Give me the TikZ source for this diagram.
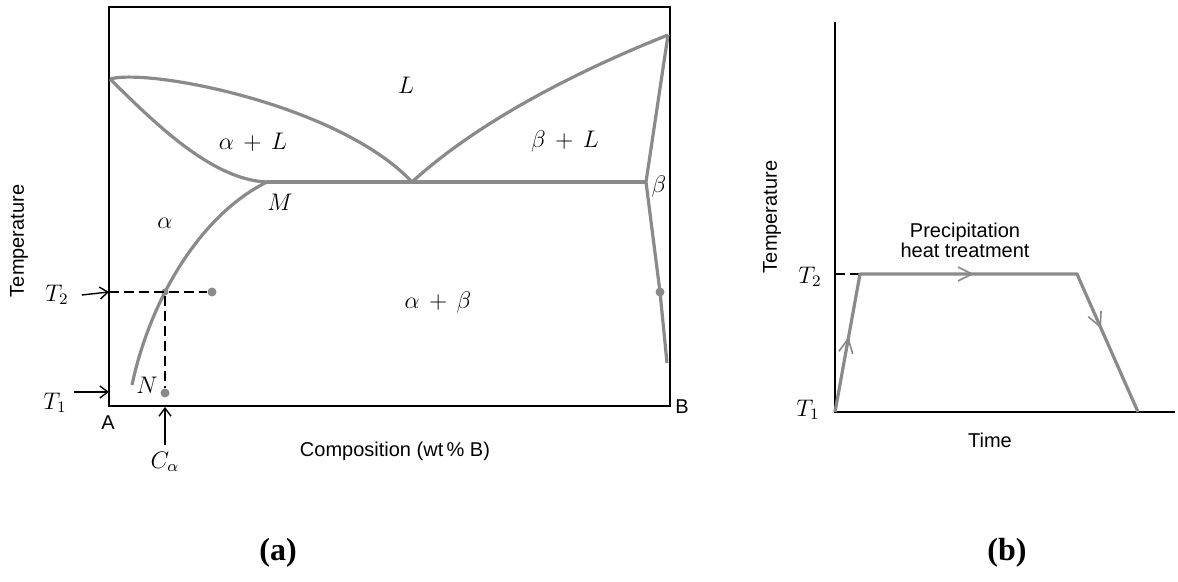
\documentclass[tikz,border=0pt]{standalone}
\usepackage{fontspec}
\setsansfont{Liberation Sans}
\newfontfamily\capfont{Liberation Serif}
\usetikzlibrary{arrows.meta,decorations.markings,calc}
\definecolor{phaseGray}{HTML}{8A8A8A}

\begin{document}
\begin{tikzpicture}[
  x=0.5pt, y=-0.5pt,
  %% Line styles
  frame/.style={draw=black, line width=1pt},
  phase/.style={draw=phaseGray, line width=1.6pt, line join=round},
  guide/.style={draw=black, line width=0.6pt, dash pattern=on 5pt off 2.5pt},
  lblarrow/.style={-{Straight Barb[length=4pt,width=6pt]}, line width=0.7pt},
  midarrow/.style={postaction={decorate, decoration={markings,
      mark=at position #1 with {\arrow{Straight Barb[length=7pt,width=7pt,line width=0.8pt]}}}}},
  %% Node styles
  dotpt/.style={circle, fill=phaseGray, inner sep=0pt, minimum size=4.5pt},
  mlabel/.style={font=\large},
  axlabel/.style={font=\sffamily},
  panel/.style={font={\capfont\bfseries\fontsize{16}{18}\selectfont}},
]
\useasboundingbox (0,0) rectangle (1178,582);

%% ── (a) Phase diagram ──────────────────────────────────────────────────────
\coordinate (A0)    at (109,406);
\coordinate (meltA) at (110,79);
\coordinate (meltB) at (668,35);
\coordinate (eut)   at (412,182);
\coordinate (M)     at (267,182);
\coordinate (betaE) at (646,182);
\coordinate (betaD) at (660,292);
\coordinate (solB)  at (667,363);
\coordinate (solA)  at (132,385);

\draw[frame] (109,7) rectangle (670,406);

%% phase boundaries
\draw[phase] (meltA) .. controls (150,68) and (340,105) .. (eut);
\draw[phase] (meltA) .. controls (150,118) and (210,180) .. (M);
\draw[phase] (M) -- (betaE);
\draw[phase] (eut) .. controls (480,120) and (580,70) .. (meltB);
\draw[phase] (meltB) -- (betaE) -- (betaD) -- (solB);
\draw[phase] (M) .. controls (200,215) and (150,300) .. (solA);

%% T2 / C_alpha construction
\coordinate (t2left) at (109,292);
\coordinate (t1left) at (109,392);
\coordinate (t1tail) at (74,392);
\coordinate (cax)    at (165,407);
\node[dotpt] (p0) at (212,292) {};
\node[dotpt, minimum size=3.5pt] (pc) at (165,292) {};
\node[dotpt] (pN) at (165,393) {};
\node[dotpt] (pB) at (betaD) {};
\draw[guide] (t2left) -- (p0);
\draw[guide] (pc) -- (pN);

%% region labels
\node[mlabel] (Lreg)  at (406,85)  {$L$};
\node[mlabel] (aL)    at (253,142) {$\alpha\, +\, L$};
\node[mlabel] (bL)    at (565,142) {$\beta\, +\, L$};
\node[mlabel] (Mlbl)  at (280,202) {$M$};
\node[mlabel] (areg)  at (165,223) {$\alpha$};
\node[mlabel] (breg)  at (659,187) {$\beta$};
\node[mlabel] (ab)    at (438,303) {$\alpha\, +\, \beta$};
\node[mlabel] (Nlbl)  at (147,385) {$N$};

%% axis labels
\node[mlabel] (T2a) at (57,295) {$T_2$};
\node[mlabel] (T1a) at (55,403) {$T_1$};
\node[mlabel] (Ca)  at (165,462) {$C_\alpha$};
\draw[lblarrow] ([xshift=3pt]T2a.east) -- (t2left);
\draw[lblarrow] (t1tail) -- (t1left);
\draw[lblarrow] (Ca.north -| cax) -- (cax);
\node[axlabel] (Albl) at (108,423) {A};
\node[axlabel] (Blbl) at (682,407) {B};
\node[axlabel] (comp) at (395,451) {Composition (wt\,\% B)};
\node[axlabel, rotate=90] (tempa) at (19,241) {Temperature};

%% ── (b) Heat treatment ─────────────────────────────────────────────────────
\coordinate (O)    at (835,412);
\coordinate (ytop) at (835,22);
\coordinate (xend) at (1175,412);
\coordinate (T2b)  at (835,274);
\coordinate (up)   at (860,274);
\coordinate (hold) at (1077,274);
\coordinate (end)  at (1138,412);

\draw[frame] (ytop) -- (O) -- (xend);
\draw[guide] (T2b) -- (up);
\draw[phase, midarrow=0.15, midarrow=0.5, midarrow=0.82]
  (O) -- (up) -- (hold) -- (end);

\node[mlabel] (T2bl) at (810,277) {$T_2$};
\node[mlabel] (T1bl) at (808,410) {$T_1$};
\node[axlabel, align=center] (prec) at (965,240) {Precipitation\\[-2pt]heat treatment};
\node[axlabel] (time) at (990,440) {Time};
\node[axlabel, rotate=90] (tempb) at (772,217) {Temperature};

%% ── Panel captions ─────────────────────────────────────────────────────────
\node[panel] (capa) at (278,553) {(a)};
\node[panel] (capb) at (1007,553) {(b)};

\end{tikzpicture}
\end{document}
